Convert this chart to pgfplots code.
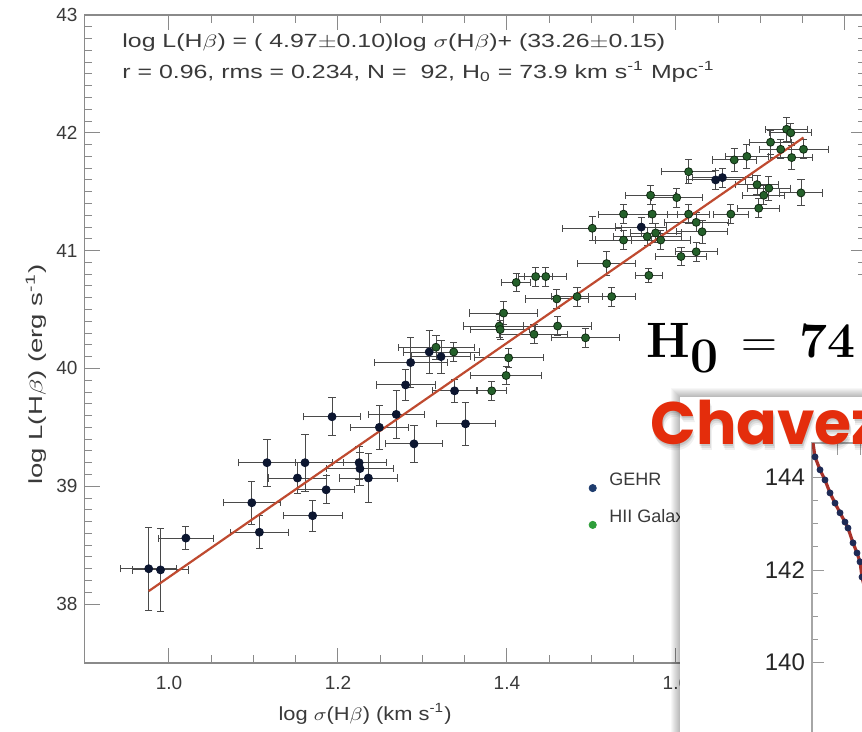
\documentclass[border=0pt]{standalone}
\usepackage{graphicx}
\usepackage{pgfplots}
\pgfplotsset{compat=1.18}
\usepackage{pgfplotstable}
\usepackage[no-math]{fontspec}
\setmainfont{Liberation Sans}
\newfontfamily\chavfont{Poppins}
\definecolor{gehrc}{HTML}{0C1630}
\definecolor{hiic}{HTML}{24602A}
\definecolor{hiiedge}{HTML}{102A12}
\definecolor{errc}{HTML}{4A4A4A}
\definecolor{fitred}{HTML}{BF4A30}
\definecolor{axc}{HTML}{8A8A8A}
\definecolor{txtc}{HTML}{3A3A3A}
\definecolor{legblue}{HTML}{1E3C6E}
\definecolor{leggreen}{HTML}{2E9E3A}
\definecolor{chavred}{HTML}{E42D0C}
\definecolor{insetred}{HTML}{A8322A}
\definecolor{insetdot}{HTML}{1E2A55}

\pgfplotstableread{
x y ex ey
0.976 38.30 0.033 0.35
0.990 38.29 0.033 0.35
1.020 38.56 0.033 0.10
1.098 38.86 0.034 0.18
1.107 38.61 0.034 0.14
1.116 39.20 0.034 0.20
1.161 39.20 0.045 0.24
1.152 39.07 0.034 0.13
1.170 38.75 0.035 0.13
1.186 38.97 0.034 0.12
1.193 39.59 0.034 0.16
1.225 39.20 0.032 0.14
1.226 39.15 0.040 0.14
1.236 39.07 0.034 0.21
1.249 39.50 0.034 0.19
1.269 39.61 0.033 0.20
1.290 39.36 0.034 0.16
1.280 39.86 0.035 0.13
1.338 39.81 0.026 0.10
1.351 39.53 0.035 0.18
1.286 40.05 0.043 0.21
1.308 40.14 0.030 0.18
1.322 40.10 0.035 0.14
1.559 41.20 0.030 0.08
1.647 41.60 0.035 0.08
1.655 41.62 0.035 0.08
}\gehrtab

\pgfplotstableread{
x y ex ey
1.316 40.18 0.045 0.10
1.337 40.14 0.030 0.08
1.382 39.81 0.017 0.08
1.399 39.94 0.042 0.08
1.402 40.09 0.041 0.08
1.391 40.36 0.043 0.10
1.392 40.33 0.035 0.08
1.396 40.47 0.040 0.10
1.411 40.73 0.017 0.08
1.434 40.78 0.020 0.08
1.446 40.78 0.025 0.08
1.432 40.29 0.040 0.08
1.459 40.59 0.037 0.08
1.460 40.36 0.040 0.08
1.493 40.26 0.040 0.08
1.483 40.61 0.030 0.08
1.524 40.61 0.028 0.08
1.518 40.89 0.034 0.10
1.568 40.79 0.016 0.06
1.501 41.19 0.035 0.10
1.538 41.09 0.033 0.08
1.538 41.31 0.030 0.08
1.572 41.31 0.030 0.08
1.570 41.47 0.030 0.08
1.601 41.45 0.030 0.08
1.576 41.15 0.030 0.08
1.582 41.09 0.035 0.08
1.566 41.12 0.040 0.08
1.606 40.95 0.030 0.08
1.624 40.99 0.025 0.08
1.624 41.24 0.038 0.08
1.631 41.16 0.030 0.10
1.615 41.31 0.025 0.08
1.665 41.31 0.021 0.08
1.698 41.36 0.025 0.08
1.704 41.47 0.025 0.08
1.696 41.56 0.025 0.08
1.710 41.53 0.025 0.10
1.748 41.49 0.026 0.11
1.615 41.67 0.032 0.10
1.669 41.77 0.026 0.10
1.684 41.80 0.025 0.10
1.712 41.92 0.025 0.10
1.724 41.86 0.025 0.08
1.731 42.03 0.025 0.10
1.736 42.00 0.025 0.08
1.751 41.86 0.029 0.08
1.737 41.79 0.025 0.10
}\hiitab

\pgfplotstableread{
x y
3 144.45
8 144.17
13 143.95
18 143.67
23 143.45
28 143.24
33 143.04
36 142.91
41 142.59
45 142.37
48 142.18
50 141.85
}\insettab

\pgfplotstableread{
x y
1 144.75
3 144.45
8 144.17
13 143.95
18 143.67
23 143.45
28 143.24
33 143.04
36 142.91
41 142.59
45 142.37
48 142.18
50 141.85
56 141.30
}\insetline

\begin{document}
\begin{tikzpicture}
\path[use as bounding box] (0,0) rectangle (431pt,366pt);
\clip (0,0) rectangle (431pt,366pt);
\fill[white] (0,0) rectangle (431pt,366pt);
\begin{axis}[
  at={(42.25pt,34.5pt)}, anchor=south west,
  scale only axis, width=390.75pt, height=324pt,
  xmin=0.9, xmax=1.825, ymin=37.5, ymax=43,
  xtick={1.0,1.2,1.4,1.6,1.8}, ytick={38,39,40,41,42,43},
  minor x tick num=3, minor y tick num=9,
  major tick length=7.5pt, minor tick length=3.8pt,
  axis line style={axc, line width=0.6pt},
  tick style={axc, line width=0.5pt},
  tick label style={font=\fontsize{9.5}{11}\selectfont, text=txtc},
  xticklabel style={yshift=-3pt, /pgf/number format/.cd, fixed, fixed zerofill, precision=1, assume math mode=true},
  yticklabel style={/pgf/number format/.cd, fixed, precision=0, assume math mode=true},
  xlabel={\scalebox{1.15}[1]{log $\sigma$(H$\beta$) (km s\textsuperscript{-1})}},
  ylabel={\scalebox{1.45}[1]{log L(H$\beta$) (erg s\textsuperscript{-1})}},
  label style={font=\fontsize{9.5}{11}\selectfont, text=txtc},
  xlabel style={at={(axis description cs:0.359,-0.0787)}, anchor=center},
  ylabel style={at={(axis description cs:-0.062,0.445)}, anchor=center},
  legend style={draw=none, fill=none, at={(0.6375,0.3057)}, anchor=north west,
    font=\fontsize{9}{10}\selectfont, text=txtc, row sep=6.5pt},
  legend image code/.code={\draw[#1] plot coordinates {(0pt,-3.5pt)};},
  /tikz/every odd column/.append style={column sep=4.5pt},
  legend cell align=left,
]
\addplot[forget plot, only marks, mark=*, mark size=2pt, mark options={fill=gehrc, draw=gehrc},
  error bars/.cd, x dir=both, x explicit, y dir=both, y explicit,
  error bar style={errc, line width=0.45pt},
  error mark options={rotate=90, errc, mark size=1.8pt, line width=0.45pt}]
  table[x=x, y=y, x error=ex, y error=ey] {\gehrtab};
\addplot[forget plot, only marks, mark=*, mark size=2pt, mark options={fill=hiic, draw=hiiedge, line width=0.4pt},
  error bars/.cd, x dir=both, x explicit, y dir=both, y explicit,
  error bar style={errc, line width=0.45pt},
  error mark options={rotate=90, errc, mark size=1.8pt, line width=0.45pt}]
  table[x=x, y=y, x error=ex, y error=ey] {\hiitab};
\addplot[fitred, line width=1.1pt, forget plot] coordinates {(0.976,38.11) (1.751,41.96)};
\addlegendimage{only marks, mark=*, mark size=1.8pt, legblue}
\addlegendentry{GEHR}
\addlegendimage{only marks, mark=*, mark size=1.8pt, leggreen}
\addlegendentry{HII Galaxies}
\end{axis}
% annotation lines
\node[anchor=west, inner sep=0, text=txtc, font=\fontsize{9.5}{11}\selectfont] at (61pt,344.5pt)
  {\scalebox{1.31}[1]{log L(H$\beta$) = ( 4.97$\pm$0.10)log $\sigma$(H$\beta$)+ (33.26$\pm$0.15)}};
\node[anchor=west, inner sep=0, text=txtc, font=\fontsize{9.5}{11}\selectfont] at (61pt,330pt)
  {\scalebox{1.31}[1]{r = 0.96, rms = 0.234, N = \ 92, H\textsubscript{0} = 73.9 km s\textsuperscript{-1} Mpc\textsuperscript{-1}}};
% white box with H0
\fill[white] (318.5pt,166pt) rectangle (431pt,223.5pt);
\node[anchor=base west, inner sep=0, font=\fontsize{34}{38}\selectfont] at (323pt,187pt) {$\mathbf{H_0\,=\,74}$};
% inset shadow
\foreach \d in {1,...,9} {
  \fill[black, opacity=0.03] (340pt-\d*0.5pt,-10pt) rectangle (440pt,167.5pt+\d*0.5pt);
}
\fill[white] (340pt,-10pt) rectangle (440pt,167.5pt);
\begin{axis}[
  at={(406pt,144.5pt)}, anchor=north west,
  scale only axis, width=50pt, height=156pt,
  xmin=0, xmax=100, ymin=138, ymax=144.75,
  ytick={140,142,144}, minor y tick num=3,
  xtick={25,48}, xticklabels={},
  axis line style={black!35, line width=0.6pt},
  tick style={black!40, line width=0.5pt},
  major tick length=6pt, minor tick length=3pt,
  yticklabel style={font=\fontsize{12}{14}\selectfont, text=black!85, /pgf/number format/assume math mode=true},
]
\addplot[insetred, line width=1.6pt] table[x=x, y=y] {\insetline};
\addplot[only marks, mark=*, mark size=1.5pt, insetdot] table[x=x, y=y] {\insettab};
\end{axis}
% Chavez text with shadow
\foreach \s/\o in {1.0/0.10, 1.8/0.08, 2.6/0.06} {
  \node[anchor=base west, inner sep=0, text=black, opacity=\o, font=\chavfont\bfseries\fontsize{30}{34}\selectfont] at (325pt+0.4*\s pt,143.5pt-\s pt) {Chavez};
}
\node[anchor=base west, inner sep=0, text=chavred, font=\chavfont\bfseries\fontsize{30}{34}\selectfont] at (325pt,143.5pt) {Chavez};
\end{tikzpicture}
\end{document}
